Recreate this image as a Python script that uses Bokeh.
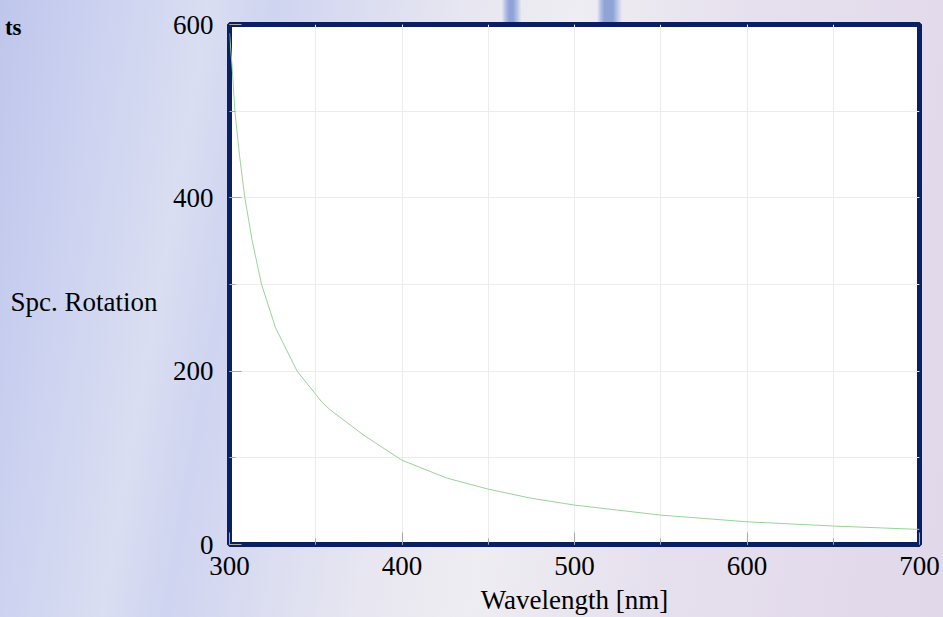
from bokeh.plotting import figure
from bokeh.models import Range1d, SingleIntervalTicker, FixedTicker, LinearAxis
from bokeh.embed import file_html
from bokeh.resources import INLINE

# data
wavelength = [300, 301.6, 303.1, 305.8, 308.9, 313.2, 318.6, 326.7, 339.2, 353.7,
              358.6, 377.9, 400, 426.2, 450, 474.5, 500, 550, 600, 650, 700]
rotation = [590, 549, 500, 449, 400, 350, 300, 250, 200, 164,
            155, 126, 97.2, 76.5, 63.9, 53.5, 45.5, 33.9, 26.2, 21.3, 17.4]

x_ticks_interval = 100
y_ticks_interval = 200
x_title = "Wavelength [nm]"
y_title = "Spc. Rotation"
y_title_at = 280
corner_text = "ts"
corner_at = 597

SERIF = "Liberation Serif"
FS = "27px"

p = figure(width=943, height=617, output_backend="svg", toolbar_location=None,
           x_range=Range1d(300, 700), y_range=Range1d(0, 600),
           min_border_left=229, min_border_right=24, min_border_top=24,
           min_border_bottom=73)

stripes = ("linear-gradient(90deg, rgba(0,0,0,0) 53.2%, #b4c1e7 53.6%, #8fa3d6 54.0%, #8fa3d6 54.4%, "
           "#bcc7ea 54.9%, rgba(0,0,0,0) 55.3%, rgba(0,0,0,0) 63.3%, #b4c1e7 63.7%, "
           "#8fa3d6 64.1%, #8fa3d6 65.0%, #c8d0ee 65.6%, rgba(0,0,0,0) 66%) 0 0 / 100% 22px no-repeat")
base = ("linear-gradient(100deg, #bfc6ec 0%, #ccd2f0 10%, #dadef2 20%, #cfd4f0 26%, "
        "#e8e7f1 45%, #eeedf2 55%, #e6e0ee 72%, #e1d8ea 100%)")
p.styles = {"background": stripes + ", " + base}
p.border_fill_color = None
p.background_fill_color = "white"
p.outline_line_color = "#0a2060"
p.outline_line_width = 5

p.line(wavelength, rotation, line_color="#98d498", line_width=1)

p.xaxis.ticker = SingleIntervalTicker(interval=x_ticks_interval, num_minor_ticks=2)
p.yaxis.ticker = SingleIntervalTicker(interval=y_ticks_interval, num_minor_ticks=2)

for ax in (p.xaxis, p.yaxis):
    ax.axis_line_color = None
    ax.major_tick_in = 12
    ax.major_tick_out = 0
    ax.minor_tick_in = 6
    ax.minor_tick_out = 0
    ax.major_tick_line_color = "#a8a8a8"
    ax.minor_tick_line_color = "#a8a8a8"
    ax.major_label_text_font = SERIF
    ax.major_label_text_font_size = FS
    ax.major_label_text_color = "black"

p.xaxis.major_label_standoff = 12
p.yaxis.major_label_standoff = 16

p.xaxis.axis_label = x_title
p.xaxis.axis_label_text_font = SERIF
p.xaxis.axis_label_text_font_size = FS
p.xaxis.axis_label_text_font_style = "normal"
p.xaxis.axis_label_text_color = "black"
p.xaxis.axis_label_standoff = 7


def text_axis(pos, label, standoff, size, style="normal"):
    return LinearAxis(ticker=FixedTicker(ticks=[pos]),
                      major_label_overrides={pos: label},
                      axis_line_color=None, major_tick_line_color=None,
                      minor_tick_line_color=None, major_tick_in=0, major_tick_out=0,
                      major_label_standoff=standoff, major_label_text_font=SERIF,
                      major_label_text_font_size=size, major_label_text_font_style=style,
                      major_label_text_color="black")


# horizontal y-title and the corner text as extra left axes with one label each
p.add_layout(text_axis(y_title_at, y_title, 12, FS), "left")
p.add_layout(text_axis(corner_at, corner_text, -14, "23px", "bold"), "left")

for g in (p.xgrid, p.ygrid):
    g.grid_line_color = "#ececec"
    g.minor_grid_line_color = "#ececec"

open("out.html", "w").write(file_html(p, INLINE))
